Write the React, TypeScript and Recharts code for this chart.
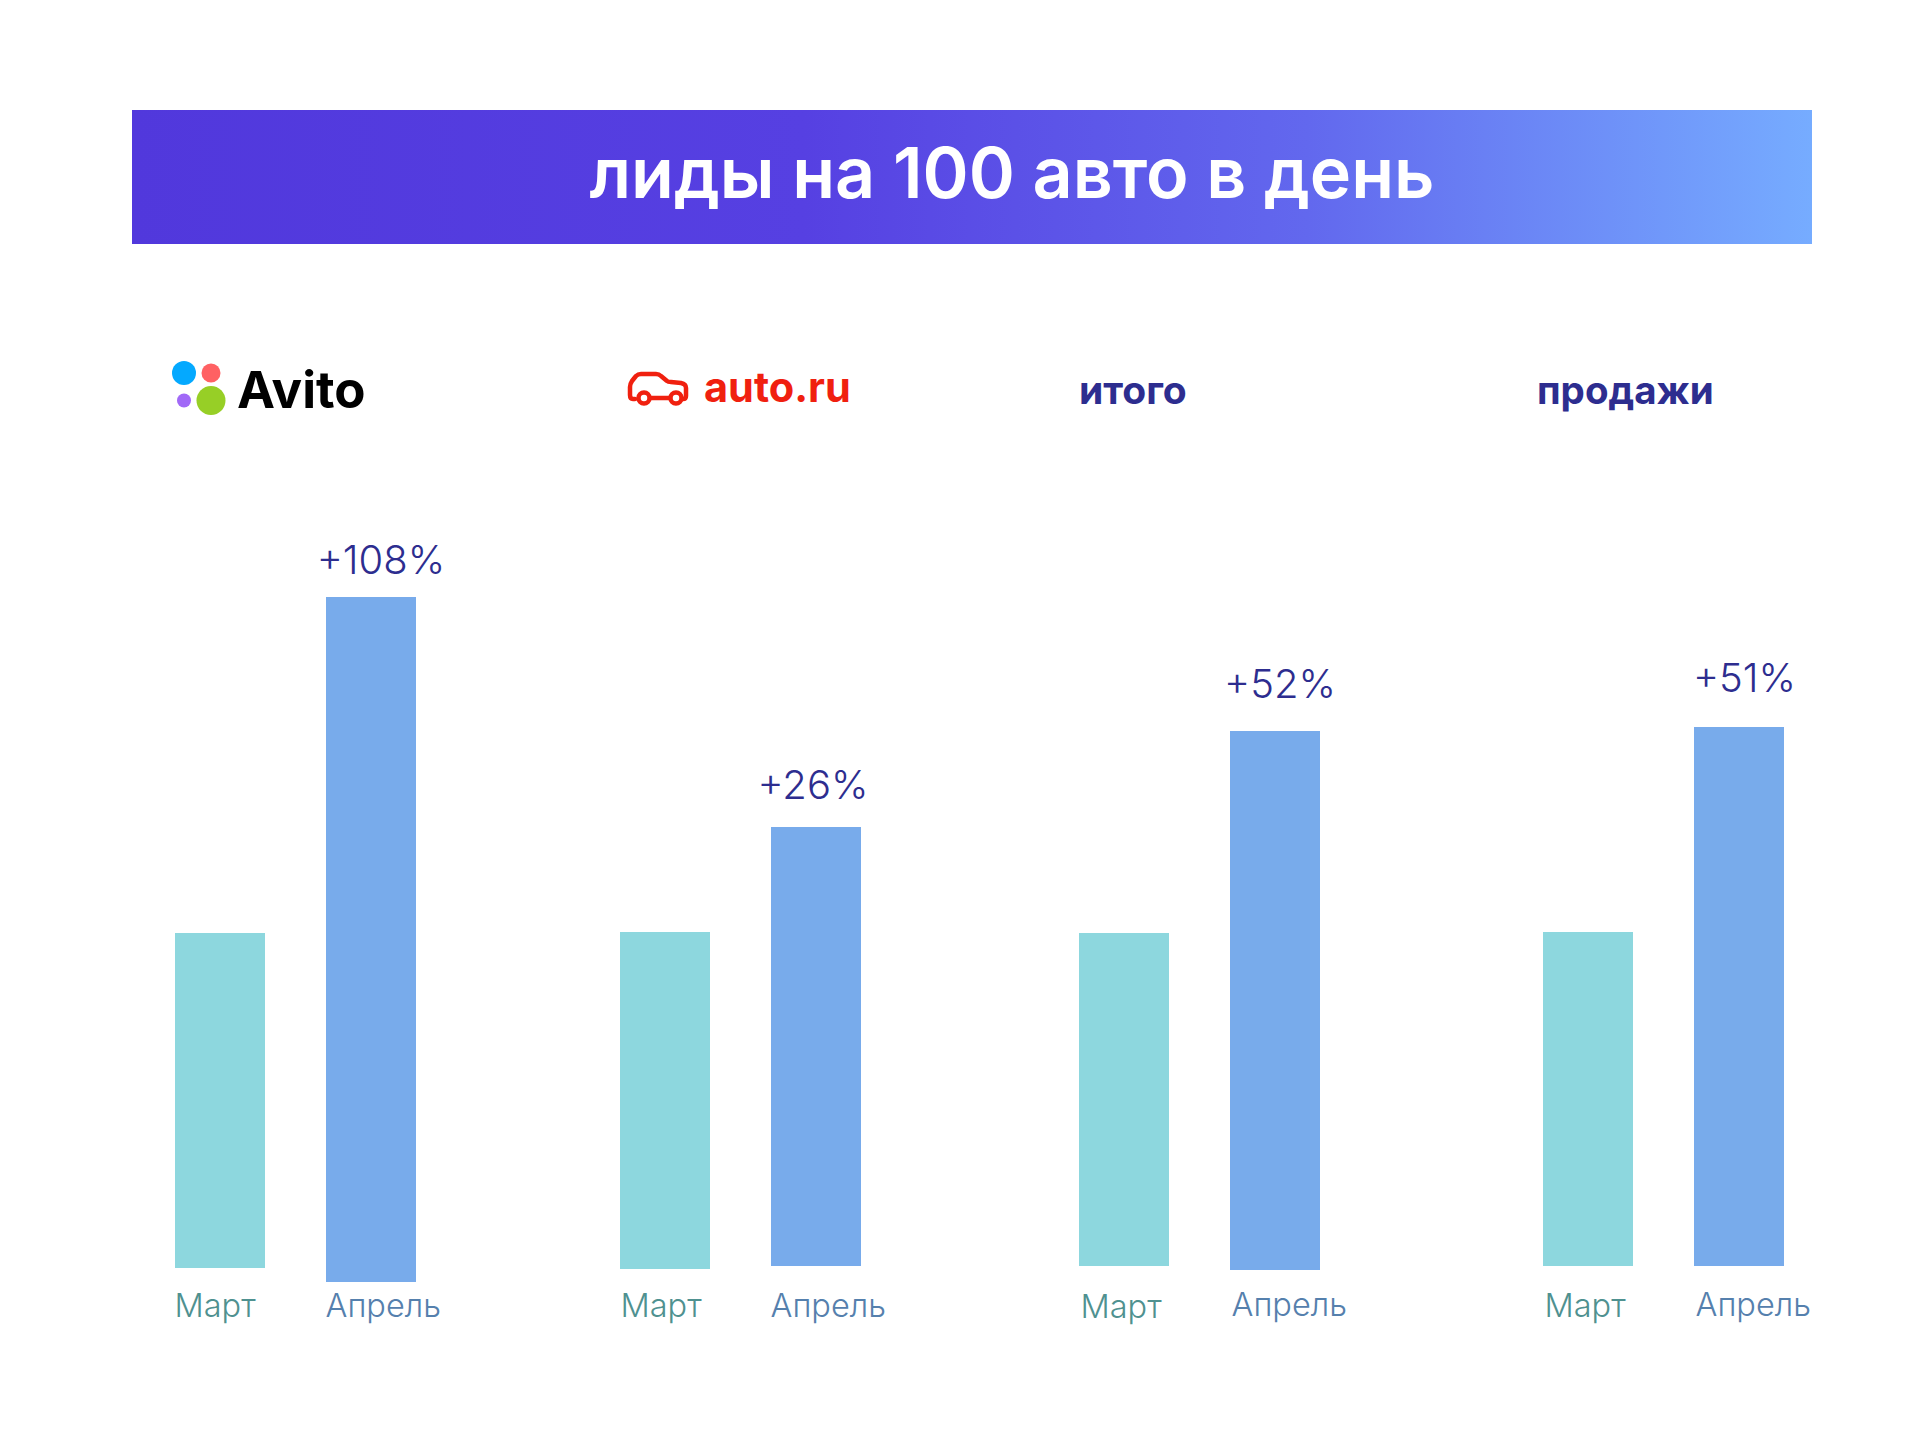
import { BarChart, Bar, XAxis, YAxis, Cell, LabelList } from "recharts";

const months = ["Март", "Апрель"];
const growth = ["+108%", "+26%", "+52%", "+51%"];

// Bars in the picture do not share a baseline, so each one is a [low, high] range
const marchLow = [22, 21, 24, 24];
const marchHigh = [357, 358, 357, 358];
const aprilLow = [8, 24, 20, 24];
const aprilHigh = [693, 463, 559, 563];

const FONT = "Inter, 'Noto Sans', sans-serif";
const BAR_COLORS = ["#8dd7de", "#78abeb"];
const TICK_COLORS = ["#4f9190", "#5580ad"];
const INK = "#2d2d8f";

// Layout of each small chart
const panels = [
  { left: 143.5, labelDx: 10, labelDy: -23, tickDx: [0, 0], tickDy: [0, 0] },
  { left: 588.5, labelDx: -3, labelDy: -28, tickDx: [1, 0], tickDy: [0, 0] },
  { left: 1047.5, labelDx: 5, labelDy: -33, tickDx: [2, 2], tickDy: [1, -1] },
  { left: 1511.5, labelDx: 5.5, labelDy: -35, tickDx: [2, 2], tickDy: [0, -1] },
];

function Panel({ index }: { index: number }) {
  const layout = panels[index];
  const data = [
    { month: months[0], range: [marchLow[index], marchHigh[index]], label: "" },
    { month: months[1], range: [aprilLow[index], aprilHigh[index]], label: growth[index] },
  ];

  const renderTick = ({ x, y, payload, index: i }: any) => (
    <text
      x={x - 45 + layout.tickDx[i]}
      y={y + 21 + layout.tickDy[i]}
      fill={TICK_COLORS[i]}
      fontFamily={FONT}
      fontSize={32.5}
      fontWeight={300}
      textAnchor="start"
    >
      {payload.value}
    </text>
  );

  const renderLabel = ({ x, y, width, value }: any) =>
    value ? (
      <text
        x={x + width / 2 + layout.labelDx}
        y={y + layout.labelDy}
        fill={INK}
        fontFamily={FONT}
        fontSize={40}
        fontWeight={300}
        textAnchor="middle"
      >
        {value}
      </text>
    ) : null;

  return (
    <div style={{ position: "absolute", left: layout.left, top: 500 }}>
      <BarChart
        width={302}
        height={850}
        data={data}
        margin={{ top: 90, right: 0, bottom: 0, left: 0 }}
        barCategoryGap={0}
      >
        <YAxis hide domain={[0, 700]} />
        <XAxis
          dataKey="month"
          axisLine={false}
          tickLine={false}
          interval={0}
          height={60}
          tick={renderTick}
          tickMargin={0}
        />
        <Bar dataKey="range" barSize={90} isAnimationActive={false}>
          {data.map((entry, i) => (
            <Cell key={entry.month} fill={BAR_COLORS[i]} />
          ))}
          <LabelList dataKey="label" content={renderLabel} />
        </Bar>
      </BarChart>
    </div>
  );
}

export default function App() {
  return (
    <div style={{ position: "absolute", left: 0, top: 0, width: 1921, height: 1441, background: "#fff", overflow: "hidden" }}>
      <div
        style={{
          position: "absolute",
          left: 131.5,
          top: 109.5,
          width: 1680,
          height: 134.5,
          background: "linear-gradient(90deg, #5138dc 0%, #5640e2 40%, #6268ee 70%, #76acff 100%)",
        }}
      />
      <svg width={1921} height={1441} style={{ position: "absolute", left: 0, top: 0 }}>
        <text x={1012} y={198} fill="#fff" fontFamily={FONT} fontSize={70} fontWeight={600} textAnchor="middle">
          лиды на 100 авто в день
        </text>

        {/* Avito logo */}
        <circle cx={184} cy={373} r={12} fill="#04a9ff" />
        <circle cx={211} cy={373} r={9.5} fill="#ff6163" />
        <circle cx={184} cy={400.5} r={7} fill="#a169f7" />
        <circle cx={211} cy={400.5} r={14.5} fill="#97cf26" />
        <text x={237} y={408} fill="#000" fontFamily={FONT} fontSize={51} fontWeight={700}>
          Avito
        </text>

        {/* auto.ru logo */}
        <path
          d="M635 399 h-2 q-3 0 -3 -4 v-8 q0 -3 2 -6 l4 -5 q2 -2 5 -2 h15 q3 0 5 2 l6 5 q1 1 4 1 l10 1 q5 1 5 5 v8 q0 3 -3 3 h-1 M651 398 h19"
          fill="none"
          stroke="#f0200f"
          strokeWidth={4.5}
          strokeLinecap="round"
          strokeLinejoin="round"
        />
        <circle cx={644} cy={398} r={5.5} fill="#fff" stroke="#f0200f" strokeWidth={4.5} />
        <circle cx={676} cy={398} r={5.5} fill="#fff" stroke="#f0200f" strokeWidth={4.5} />
        <text x={704} y={402} fill="#f0200f" fontFamily={FONT} fontSize={41.5} fontWeight={700}>
          auto.ru
        </text>

        <text x={1079} y={404} fill={INK} fontFamily={FONT} fontSize={39} fontWeight={700}>
          итого
        </text>
        <text x={1537} y={404} fill={INK} fontFamily={FONT} fontSize={38.5} fontWeight={700}>
          продажи
        </text>
      </svg>
      {panels.map((_, i) => (
        <Panel key={i} index={i} />
      ))}
    </div>
  );
}
